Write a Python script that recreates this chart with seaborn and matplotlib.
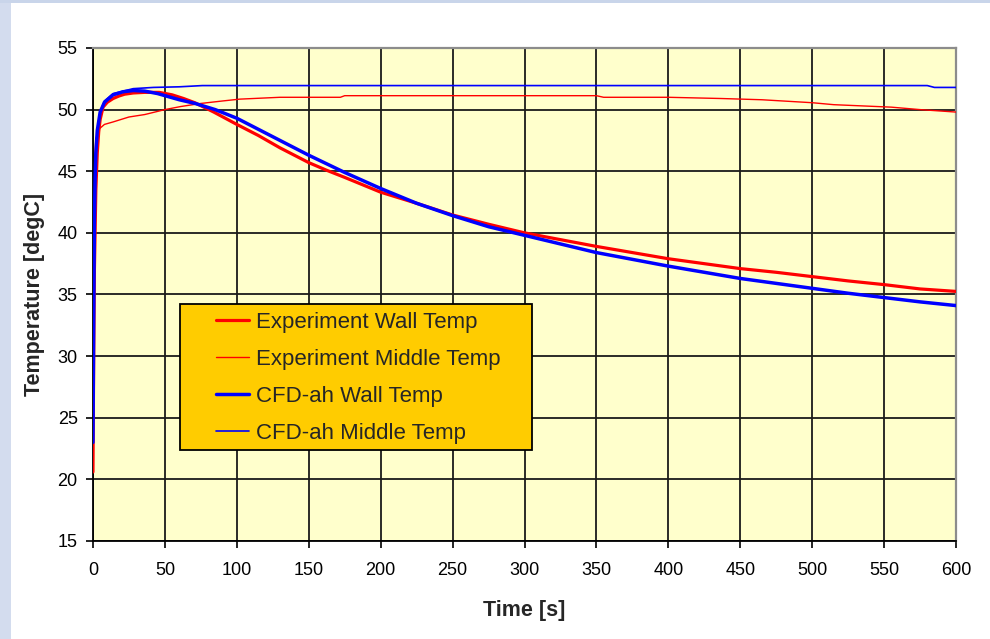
import numpy as np
import pandas as pd
import matplotlib
matplotlib.use("Agg")
import matplotlib.pyplot as plt
from matplotlib.patches import Rectangle
import seaborn as sns

# values
exp_wall_t = [0, 0.5, 1, 2, 3, 4, 5, 7, 10, 14, 18, 22, 28, 36, 46, 55, 63, 71,
              84, 100, 115, 130, 150, 162, 175, 200, 225, 250, 275, 300, 325,
              350, 375, 400, 425, 450, 475, 500, 525, 550, 575, 600]
exp_wall_y = [20.6, 30.0, 37.0, 43.5, 46.5, 48.2, 49.2, 50.2, 50.6, 50.9, 51.1,
              51.25, 51.35, 51.4, 51.4, 51.2, 50.9, 50.55, 49.8, 48.8, 47.9,
              46.9, 45.7, 45.1, 44.5, 43.3, 42.4, 41.45, 40.7, 40.0, 39.45,
              38.9, 38.4, 37.9, 37.5, 37.1, 36.8, 36.45, 36.1, 35.8, 35.45, 35.25]

exp_mid_t = [0, 0.5, 1, 1.5, 2, 4, 8, 14, 25, 36, 50, 61, 75, 90, 102, 130,
             172, 175, 350, 355, 400, 437, 465, 500, 515, 535, 555, 575, 600]
exp_mid_y = [21.0, 32.0, 42.0, 46.5, 47.6, 48.4, 48.8, 49.0, 49.4, 49.6, 50.0,
             50.25, 50.5, 50.7, 50.85, 51.0, 51.0, 51.13, 51.13, 51.0, 51.0,
             50.9, 50.8, 50.56, 50.4, 50.3, 50.2, 50.0, 49.8]

cfd_wall_t = [0, 0.5, 1, 1.5, 2, 3, 5, 8, 14, 21, 28, 36, 45, 60, 71, 85, 100,
              115, 130, 150, 175, 200, 225, 250, 275, 300, 325, 350, 375, 400,
              425, 450, 475, 500, 525, 550, 575, 600]
cfd_wall_y = [23.0, 33.0, 41.0, 44.5, 46.5, 48.3, 49.8, 50.6, 51.2, 51.45,
              51.55, 51.5, 51.3, 50.8, 50.5, 50.0, 49.3, 48.4, 47.5, 46.3, 44.9,
              43.6, 42.4, 41.4, 40.5, 39.8, 39.1, 38.4, 37.85, 37.3, 36.8, 36.3,
              35.9, 35.5, 35.1, 34.75, 34.4, 34.1]

cfd_mid_t = [0, 0.5, 1, 1.5, 2, 3, 5, 8, 14, 21, 28, 42, 60, 76, 580, 585, 600]
cfd_mid_y = [23.0, 33.0, 41.0, 44.5, 46.5, 48.3, 49.8, 50.7, 51.3, 51.5, 51.7,
             51.8, 51.85, 51.95, 51.95, 51.8, 51.8]

x_ticks = list(range(0, 601, 50))
y_ticks = list(range(15, 56, 5))

sns.set_style("ticks")
plt.rcParams["font.family"] = ["Liberation Sans", "DejaVu Sans"]

fig = plt.figure(figsize=(9.9, 6.39), dpi=100, facecolor="white")

# slide background strips
fig.patches.append(Rectangle((0, 0), 11 / 990, 1, transform=fig.transFigure,
                             facecolor="#d3dcee", edgecolor="none", zorder=0))
fig.patches.append(Rectangle((0, 1 - 3 / 639), 1, 3 / 639, transform=fig.transFigure,
                             facecolor="#c9d5ea", edgecolor="none", zorder=0))

ax = fig.add_axes([0.0939, 0.1534, 0.8718, 0.7715])
ax.set_facecolor("#ffffcc")

series = [
    (exp_wall_t, exp_wall_y, "#ff0000", 2.3, "Experiment Wall Temp"),
    (exp_mid_t, exp_mid_y, "#ff0000", 1.0, "Experiment Middle Temp"),
    (cfd_wall_t, cfd_wall_y, "#0000ff", 2.5, "CFD-ah Wall Temp"),
    (cfd_mid_t, cfd_mid_y, "#0000ff", 1.2, "CFD-ah Middle Temp"),
]

for t, y, c, lw, lab in series:
    df = pd.DataFrame({"t": t, "y": y})
    sns.lineplot(data=df, x="t", y="y", color=c, linewidth=lw, label=lab,
                 estimator=None, ax=ax, zorder=3)

ax.set_xlim(0, 600)
ax.set_ylim(15, 55)
ax.set_xticks(x_ticks)
ax.set_yticks(y_ticks)
ax.grid(True, color="#1a1a1a", linewidth=1.3)
ax.set_axisbelow(True)

for side in ["top", "right"]:
    ax.spines[side].set_color("#8c8c8c")
    ax.spines[side].set_linewidth(1.6)
for side in ["left", "bottom"]:
    ax.spines[side].set_color("black")
    ax.spines[side].set_linewidth(1.3)

ax.tick_params(axis="both", direction="out", length=5, width=1.2,
               labelsize=13, colors="black", pad=6)
ax.tick_params(axis="x", pad=10)

ax.set_xlabel("Time [s]", fontsize=15.5, fontweight="bold", labelpad=15)
ax.set_ylabel("Temperature [degC]", fontsize=15.5, fontweight="bold", labelpad=9)

# legend box
ax.add_patch(Rectangle((0.1008, 0.1846), 0.408, 0.296, transform=ax.transAxes,
                       facecolor="#ffcc00", edgecolor="black", linewidth=1.3,
                       zorder=5))
leg = ax.legend(loc="center left", bbox_to_anchor=(0.1425, 0.3306),
                frameon=False, fontsize=16, handlelength=1.5,
                handletextpad=0.3, labelspacing=0.72, borderpad=0,
                borderaxespad=0)
leg.set_zorder(6)

fig.savefig("out.png", dpi=100, facecolor=fig.get_facecolor())
